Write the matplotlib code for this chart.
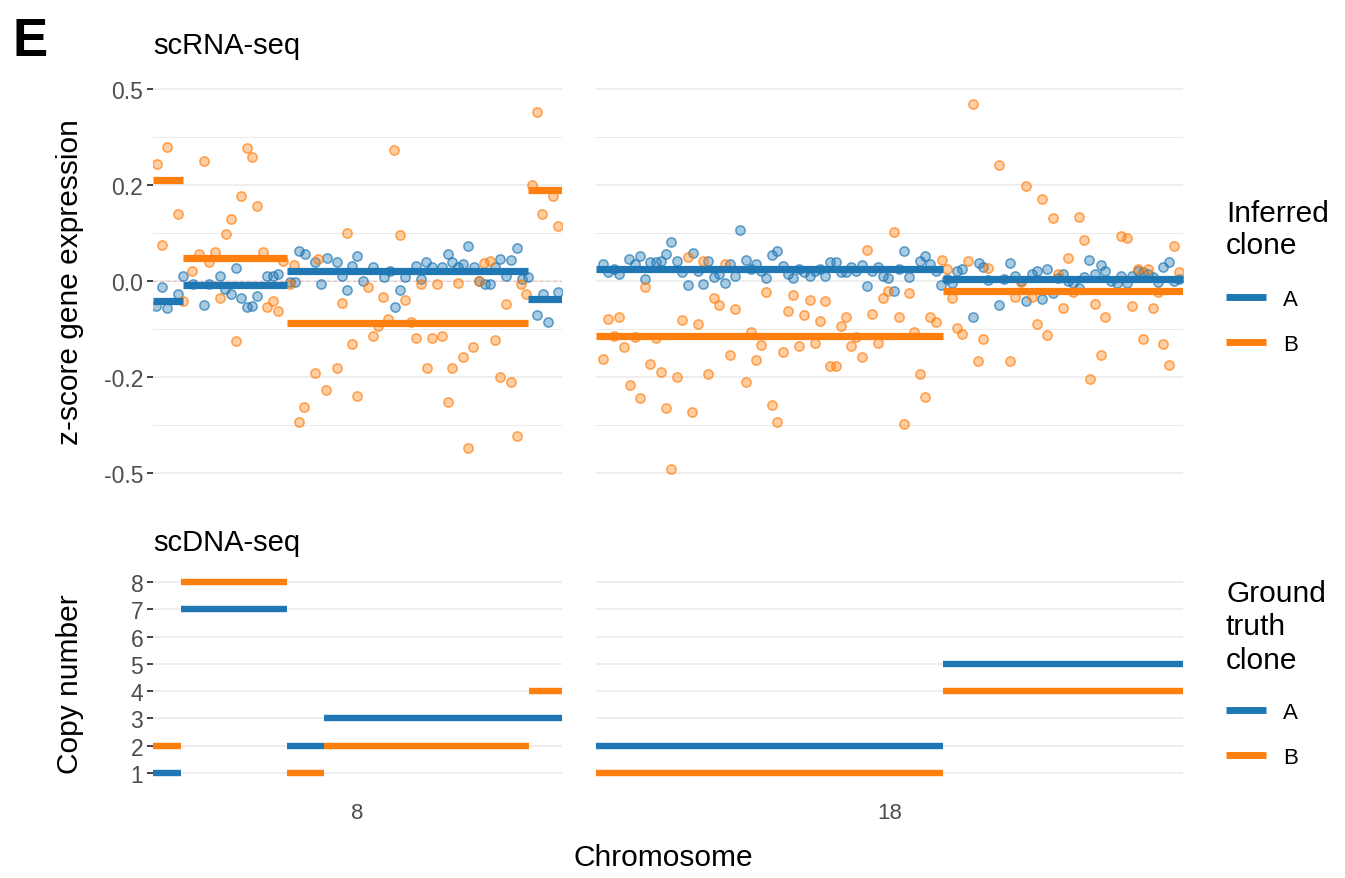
import matplotlib
matplotlib.use("Agg")
import matplotlib.pyplot as plt
from matplotlib.lines import Line2D
from matplotlib.colors import to_rgba

plt.rcParams['font.family'] = ['Liberation Sans', 'DejaVu Sans']

W, H = 1345, 879
BLUE = '#1f77b4'
ORANGE = '#ff7f0e'
GRID = '#ebebeb'
TICKTXT = '#4d4d4d'

chromosomes = ['8', '18']
clones = ['A', 'B']
chrom_extent = {'8': 409, '18': 587}   # bin-position range of each chromosome panel

# ---------------- scRNA-seq: per-bin z-scores ----------------
chr8_A_pos = [3, 9, 14, 25, 30, 40, 51, 56, 67, 72, 78, 83, 88, 94, 99, 104, 114, 120, 125, 137, 142, 146, 152, 162, 168,
              174, 184, 189, 194, 199, 204, 210, 220, 231, 237, 242, 247, 252, 263, 268, 273, 279, 289, 295, 299, 305,
              310, 315, 321, 326, 332, 337, 342, 347, 353, 358, 364, 369, 375, 384, 390, 395, 405]
chr8_A_z = [-0.052, -0.0125, -0.056, -0.027, 0.01, -0.006, -0.05, -0.006, 0.01, -0.017, -0.027, 0.027, -0.035, -0.054,
            -0.052, -0.031, 0.01, 0.01, 0.015, -0.002, -0.002, 0.0625, 0.056, 0.04, -0.006, 0.048, 0.04, 0.01, -0.019,
            0.031, 0.052, 0.0, 0.029, 0.008, 0.02, -0.054, -0.019, 0.008, 0.031, 0.004, 0.04, 0.029, 0.029, 0.056, 0.04,
            0.029, 0.035, 0.073, 0.029, 0.0, -0.006, -0.006, 0.029, 0.046, 0.01, 0.044, 0.069, 0.004, 0.008, -0.071,
            -0.027, -0.085, -0.023]

chr8_B_pos = [4, 9, 14, 25, 30, 39, 46, 51, 56, 62, 67, 73, 78, 83, 88, 94, 99, 104, 110, 114, 120, 125, 130, 137, 141,
              146, 151, 162, 165, 173, 184, 189, 194, 199, 204, 215, 220, 225, 230, 235, 241, 247, 252, 258, 263, 268,
              274, 279, 284, 289, 295, 299, 305, 310, 315, 320, 326, 331, 337, 342, 347, 353, 358, 364, 368, 373, 379,
              384, 389, 400, 405]
chr8_B_z = [0.244, 0.075, 0.279, 0.14, -0.042, 0.021, 0.056, 0.25, 0.04, 0.06, -0.035, 0.098, 0.129, -0.125, 0.177,
            0.277, 0.258, 0.156, 0.06, -0.054, -0.042, -0.0625, 0.042, -0.006, 0.033, -0.294, -0.2625, -0.192, 0.046,
            -0.227, -0.181, -0.046, 0.1, -0.131, -0.24, -0.0125, -0.115, -0.094, -0.033, -0.079, 0.273, 0.096, -0.04,
            -0.085, -0.119, -0.006, -0.181, -0.119, -0.006, -0.115, -0.252, -0.181, -0.004, -0.158, -0.348, -0.1375,
            0.0, 0.0375, 0.042, -0.123, -0.2, -0.048, -0.21, -0.323, -0.006, -0.027, 0.2, 0.352, 0.14, 0.177, 0.115]

chr18_A_pos = [7, 12, 18, 23, 33, 39, 44, 49, 54, 60, 65, 70, 75, 81, 86, 92, 97, 102, 107, 112, 118, 123, 129, 134, 139,
               144, 150, 155, 160, 165, 170, 176, 181, 187, 192, 197, 203, 208, 214, 219, 224, 229, 234, 240, 245, 250,
               255, 260, 266, 271, 276, 282, 287, 292, 298, 303, 308, 313, 324, 329, 334, 340, 345, 351, 356, 361, 366,
               377, 383, 387, 392, 403, 408, 414, 419, 425, 430, 436, 441, 446, 451, 457, 462, 467, 472, 477, 483, 488,
               493, 499, 505, 509, 515, 521, 525, 531, 536, 542, 547, 552, 557, 562, 567, 573, 578, 583]
chr18_A_z = [0.035, 0.019, 0.025, 0.015, 0.046, 0.035, 0.052, 0.004, 0.04, 0.04, 0.042, 0.056, 0.081, 0.042, 0.019,
             -0.008, 0.058, 0.021, -0.006, 0.042, 0.008, 0.015, -0.004, 0.035, 0.01, 0.106, 0.044, 0.025, 0.035, 0.021,
             0.006, 0.054, 0.0625, 0.031, 0.015, 0.006, 0.025, 0.019, 0.01, 0.021, 0.025, 0.01, 0.04, 0.04, 0.019,
             0.019, 0.029, 0.021, 0.033, -0.01, 0.021, 0.029, 0.01, 0.006, -0.021, 0.025, 0.0625, 0.008, 0.042, 0.052,
             0.035, 0.021, -0.008, 0.004, -0.004, 0.021, 0.025, -0.075, 0.037, 0.029, 0.002, -0.05, 0.004, 0.037, 0.01,
             0.0, -0.042, 0.015, 0.021, -0.0375, 0.025, -0.025, 0.006, 0.015, 0.0, -0.004, -0.015, 0.008, 0.044, 0.015,
             0.033, 0.021, 0.0, -0.004, 0.01, -0.004, 0.01, 0.021, 0.019, 0.015, 0.008, -0.002, 0.029, 0.04, 0.0, 0.004]

chr18_B_pos = [7, 12, 18, 23, 28, 34, 39, 44, 49, 54, 60, 65, 70, 75, 81, 86, 92, 96, 102, 107, 112, 118, 123, 129, 134,
               139, 150, 155, 160, 165, 170, 176, 181, 187, 192, 197, 203, 208, 214, 219, 224, 229, 234, 240, 245, 250,
               255, 260, 266, 271, 276, 282, 287, 292, 298, 303, 308, 313, 318, 324, 329, 334, 340, 346, 351, 356, 361,
               366, 372, 377, 382, 387, 392, 403, 414, 419, 425, 430, 436, 441, 446, 451, 457, 462, 467, 472, 477, 483,
               488, 494, 499, 505, 509, 525, 531, 536, 542, 547, 552, 557, 562, 567, 573, 578, 583]
chr18_B_z = [-0.1625, -0.079, -0.115, -0.075, -0.1375, -0.217, -0.117, -0.244, -0.0125, -0.173, -0.119, -0.19, -0.265,
             -0.392, -0.2, -0.081, 0.05, -0.273, -0.09, 0.042, -0.194, -0.035, -0.05, 0.035, -0.154, -0.058, -0.21,
             -0.106, -0.165, -0.133, -0.023, -0.258, -0.294, -0.148, -0.0625, -0.029, -0.135, -0.071, -0.04, -0.129,
             -0.083, -0.042, -0.177, -0.177, -0.094, -0.075, -0.135, -0.117, -0.158, 0.065, -0.069, -0.129, -0.035,
             -0.021, 0.102, -0.075, -0.298, -0.025, -0.106, -0.194, -0.242, -0.075, -0.085, 0.044, 0.025, -0.035,
             -0.098, -0.11, 0.042, 0.369, -0.167, -0.121, 0.027, 0.242, -0.167, -0.033, -0.002, 0.198, -0.033, -0.09,
             0.171, -0.1125, 0.131, 0.015, -0.056, 0.048, -0.023, 0.133, 0.085, -0.204, -0.048, -0.154, -0.075, 0.094,
             0.09, -0.052, 0.025, -0.121, 0.025, -0.056, -0.023, -0.131, -0.175, 0.073, 0.019]

# ---------------- scRNA-seq: inferred segment means ----------------
chr8_A_seg_start = [0, 30, 134, 375]
chr8_A_seg_end = [30, 134, 375, 409]
chr8_A_seg_z = [-0.042, -0.008, 0.021, -0.0375]
chr8_B_seg_start = [0, 30, 134, 375]
chr8_B_seg_end = [30, 134, 375, 409]
chr8_B_seg_z = [0.21, 0.048, -0.0875, 0.19]
chr18_A_seg_start = [0, 347]
chr18_A_seg_end = [347, 587]
chr18_A_seg_z = [0.025, 0.004]
chr18_B_seg_start = [0, 347]
chr18_B_seg_end = [347, 587]
chr18_B_seg_z = [-0.115, -0.021]

# ---------------- scDNA-seq: ground-truth copy number ----------------
cn_chr8_A_start = [0, 28, 134, 171]
cn_chr8_A_end = [28, 134, 171, 409]
cn_chr8_A = [1, 7, 2, 3]
cn_chr8_B_start = [0, 28, 134, 171, 376]
cn_chr8_B_end = [28, 134, 171, 376, 409]
cn_chr8_B = [2, 8, 1, 2, 4]
cn_chr18_A_start = [0, 347]
cn_chr18_A_end = [347, 587]
cn_chr18_A = [2, 5]
cn_chr18_B_start = [0, 347]
cn_chr18_B_end = [347, 587]
cn_chr18_B = [1, 4]

z_ticks = [-0.4, -0.2, 0.0, 0.2, 0.4]
z_tick_labels = ['-0.5', '-0.2', '0.0', '0.2', '0.5']
z_minor = [-0.3, -0.1, 0.1, 0.3]
cn_ticks = [1, 2, 3, 4, 5, 6, 7, 8]

points = {
    ('8', 'A'): (chr8_A_pos, chr8_A_z), ('8', 'B'): (chr8_B_pos, chr8_B_z),
    ('18', 'A'): (chr18_A_pos, chr18_A_z), ('18', 'B'): (chr18_B_pos, chr18_B_z),
}
segments = {
    ('8', 'A'): (chr8_A_seg_start, chr8_A_seg_end, chr8_A_seg_z),
    ('8', 'B'): (chr8_B_seg_start, chr8_B_seg_end, chr8_B_seg_z),
    ('18', 'A'): (chr18_A_seg_start, chr18_A_seg_end, chr18_A_seg_z),
    ('18', 'B'): (chr18_B_seg_start, chr18_B_seg_end, chr18_B_seg_z),
}
cn_segments = {
    ('8', 'A'): (cn_chr8_A_start, cn_chr8_A_end, cn_chr8_A),
    ('8', 'B'): (cn_chr8_B_start, cn_chr8_B_end, cn_chr8_B),
    ('18', 'A'): (cn_chr18_A_start, cn_chr18_A_end, cn_chr18_A),
    ('18', 'B'): (cn_chr18_B_start, cn_chr18_B_end, cn_chr18_B),
}
colors = {'A': BLUE, 'B': ORANGE}

fig = plt.figure(figsize=(W / 100, H / 100), dpi=100)


def px_axes(left, top, right, bottom):
    return fig.add_axes([left / W, 1 - bottom / H, (right - left) / W, (bottom - top) / H])


panel_x = {'8': (153, 562), '18': (596, 1183)}
TOP_Y = (80, 486)
BOT_Y = (573.4, 783.6)


def style(ax, show_y):
    for s in ax.spines.values():
        s.set_visible(False)
    ax.set_facecolor('white')
    ax.tick_params(axis='x', length=0, labelsize=16, labelcolor=TICKTXT, pad=14)
    ax.tick_params(axis='y', which='major', length=4, width=1.3, color='#333333',
                   labelsize=16.5, labelcolor=TICKTXT, pad=3, left=show_y, labelleft=show_y)
    ax.tick_params(axis='y', which='minor', length=0)
    ax.set_axisbelow(True)


for chrom in chromosomes:
    l, r = panel_x[chrom]
    axt = px_axes(l, TOP_Y[0], r, TOP_Y[1])
    axb = px_axes(l, BOT_Y[0], r, BOT_Y[1])

    # --- top: expression
    axt.set_xlim(0, chrom_extent[chrom])
    axt.set_ylim(-0.425, 0.42)
    axt.set_yticks(z_ticks)
    axt.set_yticklabels(z_tick_labels)
    axt.set_yticks(z_minor, minor=True)
    axt.set_xticks([])
    axt.yaxis.grid(True, which='major', color=GRID, lw=1.2)
    axt.yaxis.grid(True, which='minor', color=GRID, lw=0.7)
    style(axt, chrom == '8')
    if chrom == '8':
        axt.axhline(0, color='#f2b8b8', lw=0.8, ls=(0, (3, 3)), zorder=1)
    for cl in clones:
        xs, zs = points[(chrom, cl)]
        axt.scatter(xs, zs, s=44, facecolor=to_rgba(colors[cl], 0.38),
                    edgecolor=to_rgba(colors[cl], 0.7), linewidths=1.1, zorder=2)
    for cl in ['B', 'A']:
        st, en, val = segments[(chrom, cl)]
        axt.hlines(val, st, en, color=colors[cl], lw=5.2, zorder=3, capstyle='butt')

    # --- bottom: copy number
    axb.set_xlim(0, chrom_extent[chrom])
    axb.set_ylim(0.65, 8.35)
    axb.set_yticks(cn_ticks)
    axb.set_yticklabels([str(t) for t in cn_ticks])
    axb.set_xticks([chrom_extent[chrom] / 2])
    axb.set_xticklabels([chrom])
    axb.yaxis.grid(True, which='major', color=GRID, lw=1.2)
    style(axb, chrom == '8')
    for cl in clones:
        st, en, val = cn_segments[(chrom, cl)]
        axb.hlines(val, st, en, color=colors[cl], lw=4.6, zorder=3, capstyle='butt')

# --- texts
fig.text(13 / W, 1 - 56 / H, 'E', fontsize=38, fontweight='bold', ha='left', va='baseline')
fig.text(153 / W, 1 - 54 / H, 'scRNA-seq', fontsize=21, ha='left', va='baseline')
fig.text(153 / W, 1 - 551 / H, 'scDNA-seq', fontsize=21, ha='left', va='baseline')
fig.text(70 / W, 1 - 282 / H, 'z-score gene expression', fontsize=21.5, rotation=90, ha='center', va='center')
fig.text(70 / W, 1 - 684 / H, 'Copy number', fontsize=21.5, rotation=90, ha='center', va='center')
fig.text(663 / W, 1 - 858 / H, 'Chromosome', fontsize=21.5, ha='center', va='center')


# --- legends
def make_legend(handles, title, top_px, title_gap_pt, linespacing):
    leg = fig.legend(handles, clones, title=title, loc='upper left',
                     bbox_to_anchor=(1226 / W, 1 - top_px / H), frameon=False, fontsize=16,
                     title_fontsize=21.5, handlelength=1.8, handletextpad=0.75,
                     labelspacing=1.1, borderpad=0, borderaxespad=0, alignment='left')
    leg.get_title().set_linespacing(linespacing)
    leg._legend_box.sep = title_gap_pt
    return leg


h_inf = [Line2D([], [], color=colors[c], lw=5, solid_capstyle='butt', marker='o', markersize=4,
                markerfacecolor=colors[c], markeredgecolor=colors[c]) for c in clones]
make_legend(h_inf, 'Inferred\nclone', 200, 21, 1.2)

h_gt = [Line2D([], [], color=colors[c], lw=5, solid_capstyle='butt') for c in clones]
make_legend(h_gt, 'Ground\ntruth\nclone', 580, 20, 1.25)

fig.savefig('out.png', dpi=100, facecolor='white')
